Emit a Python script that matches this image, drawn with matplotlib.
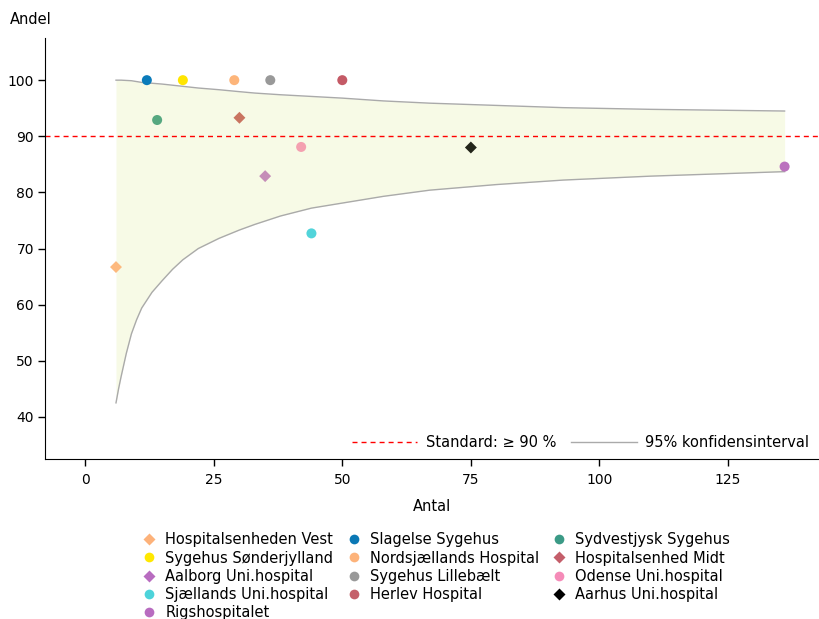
import matplotlib
matplotlib.use("Agg")
import matplotlib.pyplot as plt
from matplotlib.lines import Line2D

# =========================
# Data
# =========================
hospitals = [
    "Hospitalsenheden Vest", "Slagelse Sygehus", "Sygehus Sønderjylland",
    "Nordsjællands Hospital", "Sygehus Lillebælt", "Herlev Hospital",
    "Sydvestjysk Sygehus", "Hospitalsenhed Midt", "Aalborg Uni.hospital",
    "Odense Uni.hospital", "Sjællands Uni.hospital", "Aarhus Uni.hospital",
    "Rigshospitalet",
]
antal = [6, 12, 19, 29, 36, 50, 14, 30, 35, 42, 44, 75, 136]
andel = [66.7, 100, 100, 100, 100, 100, 92.9, 93.3, 82.9, 88.1, 72.7, 88.0, 84.6]
shapes = ["D", "o", "o", "o", "o", "o", "o", "D", "D", "o", "o", "D", "o"]
point_colors = ["#FDB97E", "#0A7BBA", "#FFE500", "#FDB57A", "#999999", "#C45A66",
                "#56A880", "#C97460", "#C58DB8", "#F4A0B0", "#52D4DA", "#23251A",
                "#BB72BE"]
legend_colors = ["#FDB27A", "#0A78B5", "#FFE800", "#FDB37A", "#999999", "#C4606A",
                 "#3B9A86", "#C45E6A", "#B86CC0", "#F58BB8", "#4DD3DA", "#000000",
                 "#B86CC0"]

# legend order (column by column, as in the figure)
legend_order = [
    "Hospitalsenheden Vest", "Sygehus Sønderjylland", "Aalborg Uni.hospital",
    "Sjællands Uni.hospital", "Rigshospitalet",
    "Slagelse Sygehus", "Nordsjællands Hospital", "Sygehus Lillebælt", "Herlev Hospital",
    "Sydvestjysk Sygehus", "Hospitalsenhed Midt", "Odense Uni.hospital", "Aarhus Uni.hospital",
]

# 95% confidence band
ci_n = [6, 6.5, 7, 8, 9, 10, 11, 13, 15, 17, 19, 22, 26, 30, 33, 38, 44, 50, 58, 67, 80, 93, 110, 136]
ci_lower = [42.5, 45.0, 47.2, 51.3, 54.8, 57.3, 59.4, 62.2, 64.3, 66.3, 68.0, 70.0, 71.8,
            73.3, 74.3, 75.8, 77.2, 78.1, 79.3, 80.4, 81.4, 82.2, 82.9, 83.7]
ci_upper = [100.0, 100.0, 100.0, 99.95, 99.9, 99.75, 99.6, 99.45, 99.3, 99.1, 98.9, 98.6,
            98.3, 97.95, 97.7, 97.4, 97.1, 96.8, 96.3, 95.9, 95.5, 95.1, 94.8, 94.5]

standard = 90

# =========================
# Plot
# =========================
plt.rcParams["font.family"] = "DejaVu Sans"

fig = plt.figure(figsize=(8.2, 6.19), dpi=100)
ax = fig.add_axes([0.0549, 0.2585, 0.9427, 0.680])

ax.fill_between(ci_n, ci_lower, ci_upper, color="#F7FAE6", lw=0, zorder=1)
ax.plot(ci_n, ci_lower, color="#AAAAAA", lw=1.0, zorder=2)
ax.plot(ci_n, ci_upper, color="#AAAAAA", lw=1.0, zorder=2)
ax.axhline(standard, color="red", lw=1.0, linestyle=(0, (3.6, 2.9)), zorder=2)

for n, p, m, c in zip(antal, andel, shapes, point_colors):
    ax.scatter(n, p, marker=m, s=52 if m == "o" else 37, color=c,
               edgecolors="none", zorder=3)

ax.set_xlim(-7.8, 142.5)
ax.set_ylim(32.5, 107.5)
ax.set_xticks([0, 25, 50, 75, 100, 125])
ax.set_yticks([40, 50, 60, 70, 80, 90, 100])
ax.tick_params(axis="both", direction="out", length=5, width=1, labelsize=10)
ax.tick_params(axis="x", pad=5)
ax.tick_params(axis="y", pad=3)
for side in ["top", "right"]:
    ax.spines[side].set_visible(False)

ax.set_xlabel("Antal", fontsize=10.5, labelpad=9)
fig.text(10 / 820, 1 - 19 / 619, "Andel", fontsize=10.5, va="center", ha="left")

line_handles = [
    Line2D([], [], color="red", lw=1.0, linestyle=(0, (3.6, 2.9))),
    Line2D([], [], color="#AAAAAA", lw=1.0),
]
ax.legend(line_handles, ["Standard: \u2265 90 %", "95% konfidensinterval"],
          loc="lower right", ncol=2, frameon=False, fontsize=10.5,
          handlelength=4.5, handletextpad=0.6, columnspacing=1.0,
          borderaxespad=0.2)

point_handles = []
for name in legend_order:
    i = hospitals.index(name)
    point_handles.append(Line2D([], [], linestyle="none", marker=shapes[i],
                                markersize=7 if shapes[i] == "o" else 6,
                                markerfacecolor=legend_colors[i],
                                markeredgecolor="none"))
fig.legend(point_handles, legend_order, loc="upper center",
           bbox_to_anchor=(436 / 820, 1 - 525 / 619), ncol=3, frameon=False,
           fontsize=10.5, handlelength=1.0, handletextpad=0.6,
           columnspacing=0.9, labelspacing=0.22, borderpad=0)

fig.savefig("out.png", dpi=100)
